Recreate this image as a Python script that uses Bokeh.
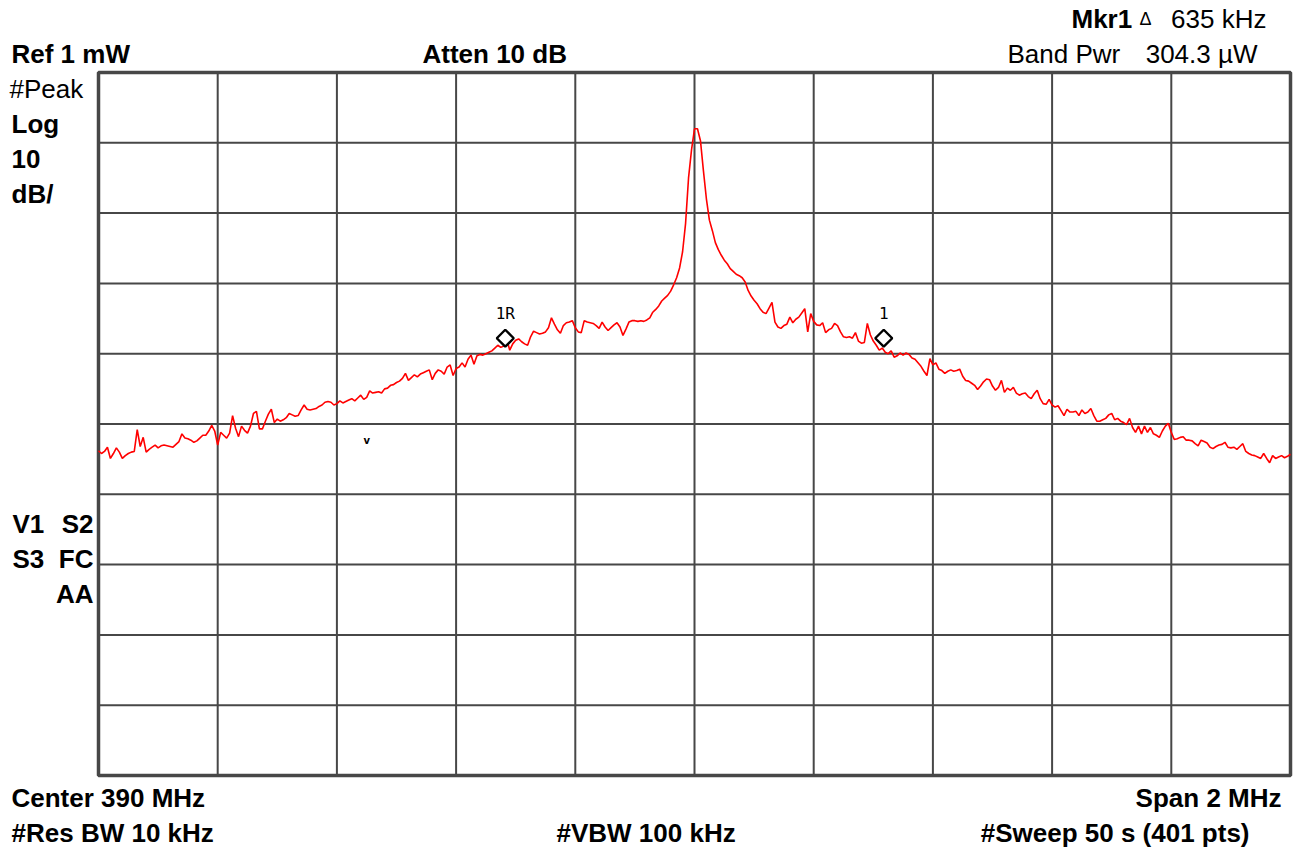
import numpy as np
from bokeh.plotting import figure
from bokeh.models import Range1d
from bokeh.embed import file_html
from bokeh.resources import INLINE
from bokeh.core.properties import value

# ---------------- data ----------------
center_mhz = 390.0
span_mhz = 2.0
n_points = 401
ref_level_dbm = 0.0
bottom_level_dbm = -100.0

trace_dbm = [
    -53.8, -54.2, -53.9, -53.3, -54.9, -54.2, -53.4, -54.0, -54.9, -54.5, -54.2, -54.0, -53.9, -50.8, -53.2, -51.9, -54.0, -53.6, -53.3, -53.0,
    -53.4, -53.1, -53.0, -53.1, -53.2, -53.3, -52.9, -52.5, -51.4, -52.0, -52.1, -52.3, -52.6, -52.4, -52.0, -51.6, -51.6, -51.0, -50.2, -51.0,
    -53.0, -51.2, -51.6, -52.0, -51.3, -48.8, -50.6, -51.8, -50.3, -50.9, -51.3, -50.3, -48.5, -48.2, -50.7, -50.7, -49.6, -48.6, -47.9, -49.8,
    -49.3, -49.6, -49.4, -49.1, -48.5, -48.7, -48.9, -48.8, -48.0, -47.3, -47.9, -48.0, -47.9, -47.8, -47.5, -47.3, -46.9, -46.8, -46.9, -47.3,
    -47.1, -46.7, -47.0, -46.8, -46.6, -46.4, -46.7, -46.3, -45.9, -46.5, -46.2, -45.3, -45.6, -45.5, -45.4, -45.6, -45.0, -44.9, -44.5, -44.4,
    -44.1, -43.9, -43.5, -42.8, -43.8, -43.4, -43.0, -43.3, -42.9, -42.7, -42.5, -42.3, -43.7, -42.8, -42.3, -42.5, -42.9, -41.9, -41.6, -43.1,
    -42.1, -41.9, -41.3, -41.9, -40.8, -40.2, -41.5, -40.3, -40.1, -40.2, -40.0, -39.8, -39.6, -39.2, -38.8, -39.1, -38.9, -37.9, -39.5, -38.6,
    -38.1, -37.9, -38.3, -38.6, -38.8, -37.6, -36.8, -37.0, -37.2, -37.1, -36.9, -36.3, -34.9, -35.8, -36.6, -37.1, -36.0, -35.6, -35.5, -35.3,
    -36.3, -36.9, -37.0, -35.3, -35.5, -35.6, -35.7, -36.0, -36.4, -35.5, -36.2, -36.7, -36.3, -35.9, -35.6, -36.2, -37.4, -36.5, -35.5, -35.3,
    -35.3, -35.4, -35.3, -35.4, -35.2, -34.9, -34.1, -33.7, -33.2, -32.5, -32.1, -31.7, -31.1, -30.2, -29.2, -27.8, -25.5, -21.5, -15.0, -11.0,
    -8.0, -8.0, -9.7, -14.0, -18.0, -21.0, -22.5, -24.2, -25.2, -26.0, -26.7, -27.2, -27.9, -28.3, -28.7, -28.9, -29.2, -29.8, -31.0, -31.8,
    -32.4, -32.9, -33.6, -34.1, -34.3, -33.5, -32.7, -35.5, -36.2, -36.4, -36.0, -35.8, -34.8, -35.6, -35.1, -34.8, -34.2, -33.6, -36.9, -34.3,
    -35.4, -35.9, -36.0, -35.6, -37.0, -36.6, -36.4, -35.7, -36.0, -36.9, -37.6, -37.7, -37.6, -37.8, -37.0, -38.2, -38.5, -38.4, -35.7, -37.3,
    -38.2, -38.8, -39.5, -39.2, -39.8, -40.0, -39.6, -40.5, -40.3, -39.9, -40.2, -39.9, -40.1, -40.6, -40.8, -41.3, -41.8, -42.5, -43.1, -40.7,
    -41.6, -41.3, -42.2, -42.4, -42.8, -42.5, -42.3, -42.5, -42.4, -42.2, -43.2, -43.8, -43.9, -44.2, -44.5, -45.1, -44.6, -44.0, -43.6, -43.7,
    -44.6, -45.2, -44.8, -43.8, -45.5, -44.9, -45.2, -44.8, -45.6, -45.9, -45.7, -45.6, -46.1, -46.4, -45.7, -45.2, -46.4, -47.1, -47.2, -46.5,
    -47.3, -47.6, -47.4, -48.1, -48.8, -47.9, -48.3, -48.3, -48.2, -48.8, -48.0, -48.5, -48.3, -47.8, -48.8, -49.6, -49.6, -49.4, -49.2, -48.7,
    -48.5, -49.4, -49.2, -49.6, -49.8, -50.1, -49.2, -50.5, -51.2, -50.3, -51.4, -50.3, -51.2, -50.5, -51.4, -51.6, -51.9, -51.0, -50.3, -49.9,
    -51.2, -52.2, -52.1, -51.9, -51.8, -52.3, -52.3, -52.4, -52.8, -53.1, -52.3, -52.5, -52.7, -53.3, -53.5, -53.2, -53.0, -52.9, -52.6, -53.3,
    -53.4, -53.3, -53.6, -53.2, -52.8, -53.9, -54.2, -54.4, -54.5, -54.7, -54.9, -54.2, -54.9, -55.5, -54.5, -54.9, -54.7, -54.5, -54.8, -54.6,
    -54.3,
]

freq_grid_mhz = [389.0, 389.2, 389.4, 389.6, 389.8, 390.0, 390.2, 390.4, 390.6, 390.8, 391.0]
level_grid_dbm = [0, -10, -20, -30, -40, -50, -60, -70, -80, -90, -100]

marker_names = ["1R", "1"]
marker_freq_mhz = [389.6825, 390.3175]
marker_dbm = [-37.8, -37.8]

track_mark_freq = [389.45]
track_mark_dbm = [-52.3]

freq_mhz = np.linspace(center_mhz - span_mhz / 2, center_mhz + span_mhz / 2, n_points)

# ---------------- layout (page pixels) ----------------
W, H = 1293, 853
GX0, GX1, GY0, GY1 = 98.0, 1290.0, 72.0, 775.0   # graticule box on the page
f0, f1 = freq_grid_mhz[0], freq_grid_mhz[-1]
px_per_mhz = (GX1 - GX0) / (f1 - f0)
px_per_db = (GY1 - GY0) / (ref_level_dbm - bottom_level_dbm)


def fx(x_page):
    return f0 + (x_page - GX0) / px_per_mhz


def dy(y_page):
    return ref_level_dbm - (y_page - GY0) / px_per_db


p = figure(width=W, height=H, output_backend="svg", toolbar_location=None,
           x_range=Range1d(fx(0), fx(W)), y_range=Range1d(dy(H), dy(0)),
           x_axis_location=None, y_axis_location=None,
           min_border=0, min_border_left=0, min_border_right=0,
           min_border_top=0, min_border_bottom=0)
p.background_fill_color = "white"
p.border_fill_color = "white"
p.outline_line_color = None
p.xgrid.visible = False
p.ygrid.visible = False

grid_col = "#474747"
# vertical graticule lines
p.segment(x0=freq_grid_mhz, x1=freq_grid_mhz,
          y0=[bottom_level_dbm] * len(freq_grid_mhz), y1=[ref_level_dbm] * len(freq_grid_mhz),
          line_color=grid_col, line_width=2)
# horizontal graticule lines
p.segment(x0=[f0] * len(level_grid_dbm), x1=[f1] * len(level_grid_dbm),
          y0=level_grid_dbm, y1=level_grid_dbm,
          line_color=grid_col, line_width=2)
# frame
p.quad(left=[f0], right=[f1], bottom=[bottom_level_dbm], top=[ref_level_dbm],
       fill_color=None, line_color=grid_col, line_width=3.5)

p.line(freq_mhz, trace_dbm, line_color="#ff0000", line_width=1.6)

p.scatter(marker_freq_mhz, marker_dbm, marker="square", angle=np.pi / 4, size=12,
          fill_color="white", line_color="black", line_width=2.4)
p.text(x=marker_freq_mhz, y=marker_dbm, text=marker_names, y_offset=-25,
       text_align="center", text_baseline="alphabetic",
       text_font=value("DejaVu Sans Mono"), text_font_size="16px", text_color="black")
p.text(x=track_mark_freq, y=track_mark_dbm, text=["v"],
       text_align="center", text_baseline="middle", text_font_style="bold",
       text_font=value("DejaVu Sans"), text_font_size="10px", text_color="black")

FONT = "Liberation Sans"
BASE_SHIFT = 10  # svg text sits lower than the requested baseline


def lab(text, x_page, base_page, bold=True, align="left", size="26px"):
    p.text(x=[fx(x_page)], y=[dy(base_page - BASE_SHIFT)], text=[text],
           text_font=value(FONT), text_font_size=size,
           text_font_style="bold" if bold else "normal",
           text_align=align, text_baseline="alphabetic", text_color="black")


lab("Mkr1", 1071, 28)
lab("\u0394", 1139, 28, bold=False, size="18px")
lab("635 kHz", 1266, 28, bold=False, align="right")
lab("Ref 1 mW", 11, 63)
lab("Atten 10 dB", 422, 63)
lab("Band Pwr", 1007, 63, bold=False)
lab("304.3 \u00b5W", 1257, 63, bold=False, align="right")
lab("#Peak", 9, 98, bold=False)
lab("Log", 11, 133)
lab("10", 11, 168)
lab("dB/", 11, 203)
lab("V1", 12, 533)
lab("S2", 93, 533, align="right")
lab("S3", 12, 568)
lab("FC", 93, 568, align="right")
lab("AA", 93, 603, align="right")
lab("Center 390 MHz", 11, 807)
lab("Span 2 MHz", 1281, 807, align="right")
lab("#Res BW 10 kHz", 11, 842)
lab("#VBW 100 kHz", 556, 842)
lab("#Sweep 50 s (401 pts)", 1249, 842, align="right")

open("out.html", "w").write(file_html(p, INLINE))
